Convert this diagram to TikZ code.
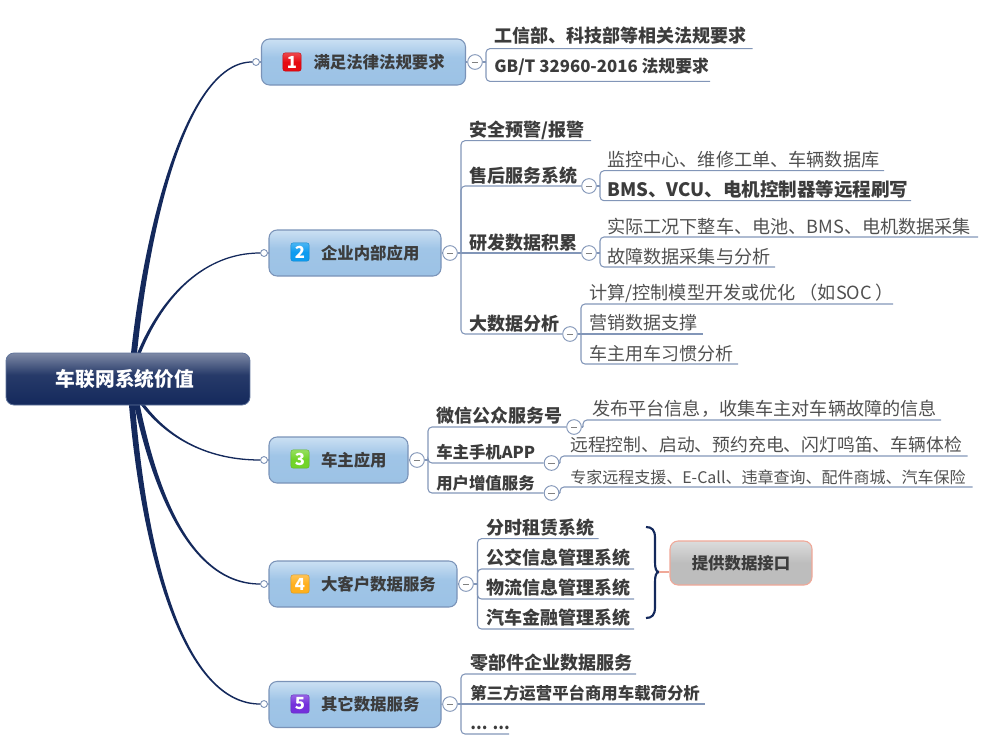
\documentclass[tikz,border=0pt]{standalone}
\usepackage{fontspec}
\setmainfont{Noto Sans CJK SC}
\usetikzlibrary{calc}
\definecolor{navyc}{HTML}{14295C}
\definecolor{edgec}{HTML}{8296B8}
\definecolor{boxline}{HTML}{7A93B8}
\definecolor{txtb}{HTML}{3C3C3C}
\definecolor{txtr}{HTML}{505050}
\definecolor{salmon}{HTML}{F0A898}
\definecolor{ired}{HTML}{E60A12}
\definecolor{iblue}{HTML}{0E9CF0}
\definecolor{igreen}{HTML}{72D42A}
\definecolor{iorange}{HTML}{FFB01E}
\definecolor{ipurple}{HTML}{7430DC}
\pgfdeclareverticalshading{rootshade}{100bp}{color(0bp)=(navyc); color(25bp)=(navyc); color(54bp)=(navyc!92!white); color(75bp)=(navyc!55!white); color(100bp)=(navyc!55!white)}
\definecolor{bluetop}{HTML}{CBE0F3}
\definecolor{bluemid}{HTML}{A0C5E7}
\definecolor{bluebot}{HTML}{9CC2E5}
\pgfdeclareverticalshading{boxshade}{100bp}{color(0bp)=(bluebot); color(25bp)=(bluebot); color(55bp)=(bluemid); color(75bp)=(bluetop); color(100bp)=(bluetop)}
\definecolor{graytop}{HTML}{DCDCDC}
\definecolor{graybot}{HTML}{BDBDBD}
\pgfdeclareverticalshading{grayshade}{100bp}{color(0bp)=(graybot); color(25bp)=(graybot); color(50bp)=(graybot); color(75bp)=(graytop); color(100bp)=(graytop)}
\newcommand\taper[6]{\fill[navyc] ($(#1)+(-#5,0)$) .. controls ($(#2)+(-#5*0.85,0)$) and ($(#3)+(0,#6*#5*0.45)$) .. ($(#4)+(0,#6*0.6)$) -- ($(#4)+(0,-#6*0.6)$) .. controls ($(#3)+(0,-#6*#5*0.45)$) and ($(#2)+(#5*0.85,0)$) .. ($(#1)+(#5,0)$) -- cycle;}
\newcommand\btxt[1]{\hspace*{39pt}\raisebox{-1.2pt}{#1}}
\tikzset{
  edge/.style={draw=edgec,line width=0.8pt,rounded corners=3pt},
  rootbox/.style={shape=rectangle,rounded corners=6pt,draw=edgec!70!navyc,line width=0.6pt,shading=rootshade,text=white,font=\fontsize{14.8pt}{17pt}\selectfont\bfseries,minimum width=183pt,minimum height=39pt,inner sep=0pt},
  branchbox/.style={shape=rectangle,rounded corners=6pt,draw=boxline,line width=0.8pt,shading=boxshade,text=txtb,font=\fontsize{12.3pt}{15pt}\selectfont\bfseries,text width=#1*0.75pt,align=left,minimum height=34.5pt,inner xsep=0pt,inner ysep=0pt},
  graybox/.style={shape=rectangle,rounded corners=6pt,draw=salmon,line width=0.8pt,shading=grayshade,text=txtb,font=\fontsize{12.3pt}{15pt}\selectfont\bfseries,minimum width=106.5pt,minimum height=33pt,inner sep=0pt},
  numicon/.style={shape=rectangle,rounded corners=1.5pt,top color=#1!75!white,bottom color=#1,middle color=#1,draw=#1!85!black,line width=0.3pt,text=white,font=\fontsize{12.5pt}{12.5pt}\selectfont\bfseries,minimum width=13.6pt,minimum height=13.6pt,inner sep=0pt},
  dot/.style={shape=circle,draw=edgec,fill=white,line width=0.7pt,minimum size=5.2pt,inner sep=0pt},
  fold/.style={shape=circle,draw=edgec,fill=white,line width=0.7pt,minimum size=11pt,inner sep=0pt,
    path picture={\draw[gray,line width=0.7pt] ($(path picture bounding box.center)+(-2.4pt,0)$) -- ($(path picture bounding box.center)+(2.4pt,0)$);}},
  leafb/.style={anchor=base west,inner sep=0pt,text=txtb,font=\fontsize{13.5pt}{16pt}\selectfont\bfseries},
  leafr/.style={anchor=base west,inner sep=0pt,text=txtr,font=\fontsize{13.6pt}{16pt}\selectfont},
  smallb/.style={leafb,font=\fontsize{12.3pt}{15pt}\selectfont\bfseries},
}
\begin{document}
\begin{tikzpicture}[x=0.75pt,y=-0.75pt]
\useasboundingbox (0,0) rectangle (987,753);
% dots on branch boxes
\node[dot] (d1) at (256,62) {};
\node[dot] (d2) at (264,253) {};
\node[dot] (d3) at (264,460) {};
\node[dot] (d4) at (264,584) {};
\node[dot] (d5) at (264,704) {};
% anchors at root
\coordinate (r1) at (134,353);
\coordinate (r2) at (139,353);
\coordinate (r3) at (143,405);
\coordinate (r4) at (137,405);
\coordinate (r5) at (132,405);
\taper{r1}{148,220}{188,62}{d1.west}{3}{-1}
\taper{r2}{163,295}{205,253}{d2.west}{1.8}{-1}
\taper{r3}{170,440}{210,460}{d3.west}{2}{1}
\taper{r4}{155,490}{190,584}{d4.west}{2.8}{1}
\taper{r5}{145,560}{185,704}{d5.west}{3}{1}
% root
\node[rootbox] (root) at (128,379) {\hspace*{-4.5pt}\raisebox{-0.8pt}{车联网系统价值}};
% branches
\node[branchbox=204] (b1) at (363.5,62) {\btxt{满足法律法规要求}};
\node[branchbox=172] (b2) at (355,253) {\btxt{企业内部应用}};
\node[branchbox=139] (b3) at (338.5,460) {\btxt{车主应用}};
\node[branchbox=188] (b4) at (363,584) {\btxt{大客户数据服务}};
\node[branchbox=172] (b5) at (355,704.5) {\btxt{其它数据服务}};
\node[numicon=ired] (i1) at (292,62) {1};
\node[numicon=iblue] (i2) at (300,252) {2};
\node[numicon=igreen] (i3) at (300,459) {3};
\node[numicon=iorange] (i4) at (300,584) {4};
\node[numicon=ipurple] (i5) at (300,704) {5};
\foreach \n in {1,...,5} \draw[edge] (d\n.east) -- (b\n.west);
% folds
\node[fold] (f1) at (475,62) {};
\node[fold] (f2) at (450,253) {};
\node[fold] (f3) at (417,460) {};
\node[fold] (f4) at (466,584) {};
\node[fold] (f5) at (450,704) {};
\foreach \n in {1,...,5} \draw[edge] (b\n.east) -- (f\n.west);
\node[fold] (f21) at (589,186) {};
\node[fold] (f22) at (589,253) {};
\node[fold] (f23) at (570,334) {};
\node[fold] (f31) at (574,427) {};
\node[fold] (f32) at (551.5,463) {};
\node[fold] (f33) at (551.5,493) {};
% junctions
\coordinate (j1) at (486,62);
\coordinate (j2) at (461,253);
\coordinate (j3) at (428,460);
\coordinate (j4) at (477.5,584);
\coordinate (j5) at (461,704);
\coordinate (j21) at (600,186);
\coordinate (j22) at (600,253);
\coordinate (j23) at (581,334);
\coordinate (j31) at (583,427);
\coordinate (j32) at (560,463);
\coordinate (j33) at (560,493);
\foreach \n in {1,...,5} \draw[edge] (f\n.east) -- (j\n);
\foreach \n in {21,22,23,31,32,33} \draw[edge] (f\n.east) -- (j\n);
% underline ends
\coordinate (e11) at (752.5,48.6);
\coordinate (e12) at (710,81.4);
\coordinate (e21) at (591,140.7);
\coordinate (e211) at (884,170.7);
\coordinate (e212) at (911,200.7);
\coordinate (e221) at (978,237);
\coordinate (e222) at (775,267);
\coordinate (e231) at (893,304);
\coordinate (e232) at (702.5,334);
\coordinate (e233) at (738,364);
\coordinate (e311) at (941,420);
\coordinate (e321) at (967.7,456);
\coordinate (e331) at (972.5,487);
\coordinate (e41) at (598.5,538.7);
\coordinate (e42) at (634,569);
\coordinate (e43) at (634,599);
\coordinate (e44) at (634,629);
\coordinate (e51) at (636,674);
\coordinate (e52) at (704.5,704);
\coordinate (e53) at (509,734);
% brackets
\draw[edge] (j1) |- (e11); \draw[edge] (j1) |- (e12);
\draw[edge] (j2) |- (e21); \draw[edge] (j2) |- (f21.west);
\draw[edge] (j2) -- (f22.west); \draw[edge] (j2) |- (f23.west);
\draw[edge] (j21) |- (e211); \draw[edge] (j21) |- (e212);
\draw[edge] (j22) |- (e221); \draw[edge] (j22) |- (e222);
\draw[edge] (j23) |- (e231); \draw[edge] (j23) -- (e232); \draw[edge] (j23) |- (e233);
\draw[edge] (j3) |- (f31.west); \draw[edge] (j3) |- (f32.west); \draw[edge] (j3) |- (f33.west);
\draw[edge] (j31) |- (e311);
\draw[edge] (j32) |- (e321);
\draw[edge] (j33) |- (e331);
\draw[edge] (j4) |- (e41); \draw[edge] (j4) |- (e42); \draw[edge] (j4) |- (e43); \draw[edge] (j4) |- (e44);
\draw[edge] (j5) |- (e51); \draw[edge] (j5) -- (e52); \draw[edge] (j5) |- (e53);
% leaf texts
\node[leafb] (t11) at (494,42.5) {工信部、科技部等相关法规要求};
\node[smallb,font=\fontsize{12.6pt}{15pt}\selectfont\bfseries] (t12) at (494,72.5) {GB/T 32960-2016 法规要求};
\node[leafb] (t21) at (469,136.8) {安全预警/报警};
\node[leafb] (t22) at (469,182.5) {售后服务系统};
\node[leafb] (t23) at (469,249.5) {研发数据积累};
\node[leafb] (t24) at (469,330.8) {大数据分析};
\node[leafr] (t211) at (607,166.8) {监控中心、维修工单、车辆数据库};
\node[leafb,font=\fontsize{13.9pt}{16pt}\selectfont\bfseries] (t212) at (607,196.8) {BMS、VCU、电机控制器等远程刷写};
\node[leafr] (t221) at (607,233.5) {实际工况下整车、电池、BMS、电机数据采集};
\node[leafr] (t222) at (607,263.5) {故障数据采集与分析};
\node[leafr] (t231) at (589,299.8) {计算/控制模型开发或优化\hspace{3pt}（如SOC\hspace{3pt}）};
\node[leafr,font=\fontsize{13.5pt}{16pt}\selectfont] (t232) at (589,329.8) {营销数据支撑};
\node[leafr,font=\fontsize{13.5pt}{16pt}\selectfont] (t233) at (589,360) {车主用车习惯分析};
\node[leafb] (t31) at (436,422.8) {微信公众服务号};
\node[smallb] (t32) at (436,458.5) {车主手机APP};
\node[smallb] (t33) at (436,489) {用户增值服务};
\node[leafr] (t311) at (592,415.8) {发布平台信息，收集车主对车辆故障的信息};
\node[leafr,font=\fontsize{13.35pt}{16pt}\selectfont] (t321) at (570,451.8) {远程控制、启动、预约充电、闪灯鸣笛、车辆体检};
\node[leafr,font=\fontsize{12pt}{15pt}\selectfont] (t331) at (570,483) {专家远程支援、E-Call、违章查询、配件商城、汽车保险};
\node[leafb] (t41) at (486,534.8) {分时租赁系统};
\node[leafb] (t42) at (486,564.8) {公交信息管理系统};
\node[leafb] (t43) at (486,594.8) {物流信息管理系统};
\node[leafb] (t44) at (486,624.8) {汽车金融管理系统};
\node[leafb] (t51) at (470,669.8) {零部件企业数据服务};
\node[smallb] (t52) at (470,699) {第三方运营平台商用车载荷分析};
\node[smallb] (t53) at (470,729.5) {... ...};
% brace
\coordinate (tip) at (659,572);
\coordinate (bt) at (646,527);
\coordinate (bb) at (646,618);
\draw[navyc,line width=1.6pt] (bt) .. controls (652,527) and (655,530) .. (655,538) -- (655,562) .. controls (655,568) and (656,572) .. (tip) .. controls (656,572) and (655,576) .. (655,582) -- (655,607) .. controls (655,615) and (652,618) .. (bb);
% data interface box
\node[graybox] (api) at (741,563) {提供数据接口};
\draw[salmon,line width=1pt] (tip) -- (tip -| api.west);
\end{tikzpicture}
\end{document}
